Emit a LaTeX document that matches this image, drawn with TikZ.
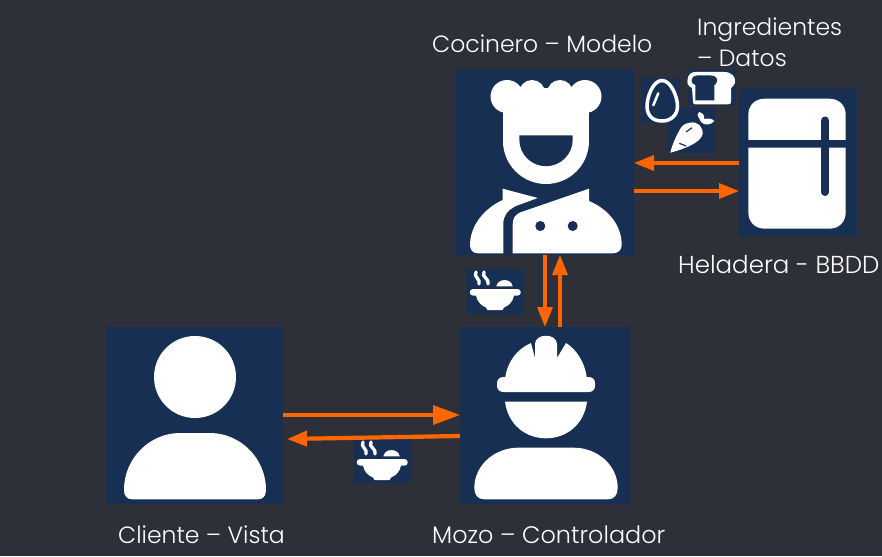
\documentclass[tikz,border=0pt]{standalone}
\usepackage{fontspec}
\setmainfont{Poppins}[UprightFont=* Light]
\usetikzlibrary{arrows.meta}
\definecolor{fondo}{HTML}{2D3038}
\definecolor{azul}{HTML}{172F52}
\definecolor{naranja}{HTML}{FF6600}
\tikzset{
  caja/.style={fill=azul,inner sep=0pt,outer sep=0pt},
  flecha/.style={draw=naranja,line width=3.3pt,-{Stealth[length=20pt,width=15pt,inset=0pt]}},
  flechota/.style={draw=naranja,line width=3.6pt,-{Stealth[length=27pt,width=19pt,inset=0pt]}},
  rotulo/.style={text=white,font=\fontsize{23.5}{28}\selectfont,inner sep=0pt,anchor=base west,align=left},
  blanco/.style={fill=white,draw=none}
}
\newcommand{\sopa}[2]{%
  \begin{scope}[shift={(#1,#2)}]
    %steam
    \draw[white,line width=3.3pt,line cap=round] (9,3) .. controls (6,8) and (14,10) .. (12,15);
    \draw[white,line width=3.3pt,line cap=round] (17,3) .. controls (14,8) and (23,10) .. (21,15);
    %rice
    \fill[white] (29.3,17.3) .. controls (31,9) and (44,9) .. (45.7,17.3) -- cycle;
    %bowl
    \fill[white] (6,20) -- (50.5,20) arc (-90:90:3.3) -- (47,26.6) .. controls (46,33) and (41,37) .. (37,38.5) -- (35.5,41) -- (20.5,41) -- (19,38.5) .. controls (15,37) and (10,33) .. (9,26.6) -- (6,26.6) arc (90:270:3.3) -- cycle;
  \end{scope}}
\begin{document}
\begin{tikzpicture}[x=1pt,y=-1pt]
  \useasboundingbox[fill=fondo] (0,0) rectangle (882,556);

  %boxes
  \node[caja,minimum width=179pt,minimum height=185pt] (cocinero) at (544.5,162.5) {};
  \node[caja,minimum width=118pt,minimum height=147pt] (heladera) at (798,162.5) {};
  \node[caja,minimum width=170pt,minimum height=177pt] (mozo) at (545,415.5) {};
  \node[caja,minimum width=176pt,minimum height=177pt] (cliente) at (195,415.5) {};
  \node[caja,minimum width=39pt,minimum height=45pt] (huevo) at (660.5,100.5) {};
  \node[caja,minimum width=48pt,minimum height=35pt] (pan) at (712,87.5) {};
  \node[caja,minimum width=47pt,minimum height=45pt] (zanahoria) at (691.5,130.5) {};
  \node[caja,minimum width=57pt,minimum height=45pt] (sopaA) at (495.5,291.5) {};
  \node[caja,minimum width=57pt,minimum height=44pt] (sopaB) at (382.5,461) {};

  %labels
  \node[rotulo] (tcocinero) at (432,53) {Cocinero – Modelo};
  \node[rotulo] (tingredientes) at (697,36) {Ingredientes};
  \node[rotulo] (tdatos) at (697,67) {– Datos};
  \node[rotulo,font=\fontsize{24.5}{28}\selectfont] (theladera) at (678,273) {Heladera - BBDD};
  \node[rotulo] (tcliente) at (118,543) {Cliente – Vista};
  \node[rotulo,font=\fontsize{23.9}{28}\selectfont] (tmozo) at (432,543) {Mozo – Controlador};

  %cliente
  \fill[blanco] (195,377) circle (41);
  \fill[blanco] (124,490) .. controls (124,458) and (150,433) .. (180,433) -- (210,433) .. controls (240,433) and (266,458) .. (266,490) .. controls (266,496) and (263,499.3) .. (258,499.3) -- (132,499.3) .. controls (127,499.3) and (124,496) .. (124,490) -- cycle;

  %mozo
  \fill[blanco] (505,379) .. controls (507,362) and (517,349) .. (531,343) -- (535,358) -- (535,344) .. controls (535,333) and (557,333) .. (557,344) -- (557,358) -- (566,343) .. controls (576,349) and (585,362) .. (587,379) -- cycle;
  \fill[blanco,rounded corners=6pt] (497,377) rectangle (595,392);
  \fill[blanco] (505,401.7) -- (587,401.7) .. controls (584,425) and (566,438.3) .. (546,438.3) .. controls (526,438.3) and (508,425) .. (505,401.7) -- cycle;
  \fill[blanco] (474.3,488) .. controls (474.3,465) and (495,447.7) .. (518,447.7) -- (574,447.7) .. controls (597,447.7) and (617.7,465) .. (617.7,488) .. controls (617.7,495) and (614,499.3) .. (608,499.3) -- (484,499.3) .. controls (478,499.3) and (474.3,495) .. (474.3,488) -- cycle;

  %cocinero
  \fill[blanco] (507,96.5) circle (16.5) (532,93) circle (13) (560,93) circle (13) (585,96.5) circle (16.5);
  \fill[blanco] (507,88) rectangle (585,105);
  \fill[blanco] (503,100) rectangle (589,141);
  \fill[blanco] (503,141) arc (180:0:43) -- cycle;
  \fill[azul] (519.3,135.3) -- (572.7,135.3) -- (572.7,139.5) arc (0:180:26.7) -- cycle;
  \fill[blanco] (470,245) .. controls (470,225) and (485,208) .. (502.7,200) -- (502.7,188.7) -- (537.7,198) -- (516,206) .. controls (508,210) and (503.3,215) .. (503.3,224) -- (503.3,253.3) -- (478,253.3) .. controls (473,253.3) and (470,250) .. (470,245) -- cycle;
  \fill[blanco] (512.7,253.3) -- (512.7,225) .. controls (512.7,218) and (515,215) .. (520,212.5) -- (589,188.7) -- (589,201) .. controls (608,209) and (621.7,225) .. (621.7,245) .. controls (621.7,250) and (618,253.3) .. (613,253.3) -- cycle;
  \fill[azul] (540.3,226) circle (5) (572.7,226) circle (5);

  %heladera
  \fill[blanco] (748.3,140) -- (748.3,115) .. controls (748.3,105) and (755,98.7) .. (765,98.7) -- (829,98.7) .. controls (839,98.7) and (845.7,105) .. (845.7,115) -- (845.7,140) -- cycle;
  \fill[blanco] (748.3,147.7) -- (845.7,147.7) -- (845.7,212) .. controls (845.7,222) and (839,228.7) .. (829,228.7) -- (765,228.7) .. controls (755,228.7) and (748.3,222) .. (748.3,212) -- cycle;
  \draw[azul,line width=8pt,line cap=round] (825,120.5) -- (825,192);

  %huevo
  \draw[white,line width=3.5pt] (662,80.5) .. controls (671,80.5) and (677.5,97) .. (677.5,106) .. controls (677.5,116) and (670,121) .. (662,121) .. controls (653,121) and (647,116) .. (647,106) .. controls (647,97) and (653,80.5) .. (662,80.5) -- cycle;
  \draw[white,line width=2.5pt,line cap=round] (658.3,93.3) -- (653.3,105.3);

  %pan
  \fill[blanco] (695,72) -- (724,72) .. controls (733,72) and (736,78) .. (735,83) .. controls (734,86) and (732,87) .. (731,88) -- (731,102) .. controls (731,104) and (730,104.3) .. (728,104.3) -- (695,104.3) .. controls (693.5,104.3) and (693,103) .. (693,102) -- (692,88) .. controls (687,86) and (687,82) .. (687.7,79) .. controls (688,75) and (691,72) .. (695,72) -- cycle;
  \fill[azul] (691.5,80) .. controls (692,77) and (694,75.5) .. (697,75.5) -- (711,75.5) .. controls (716,75.5) and (718,79) .. (716.7,82) .. controls (716,84) and (715,85) .. (714.3,85) -- (714.3,100.3) -- (695.3,100.3) -- (695.3,85) .. controls (693,84) and (691,83) .. (691.5,80) -- cycle;

  %zanahoria
  \fill[blanco] (670.3,152.7) .. controls (672,145) and (677,134) .. (681,127.7) .. controls (684,124) and (687,122.7) .. (690,122.7) .. controls (698,121) and (703,127) .. (702.7,134.3) .. controls (701,139) and (697,142) .. (692.7,144.3) .. controls (686,148) and (677,151) .. (670.3,152.7) -- cycle;
  \draw[azul,line width=1.2pt] (686,132) -- (692,127.7) (679.3,143.3) -- (686,146);
  \fill[blanco] (699,118) .. controls (697,115) and (697,113) .. (699.3,112) .. controls (703,113) and (705,116) .. (704,119) .. controls (708,118) and (712,118.5) .. (714.3,121) .. controls (711,125) and (705,126) .. (701,122) -- cycle;

  %sopa
  \sopa{467}{269}
  \sopa{354}{439}

  %arrows
  \draw[flecha] (heladera.west |- 0,163) -- (cocinero.east |- 0,163);
  \draw[flecha] (cocinero.east |- 0,191) -- (heladera.west |- 0,191);
  \draw[flecha] (cocinero.south -| 545,0) -- (mozo.north -| 545,0);
  \draw[flecha] (mozo.north -| 560,0) -- (cocinero.south -| 560,0);
  \draw[flechota] (cliente.east |- 0,415) -- (mozo.west |- 0,415);
  \draw[flecha,line width=4.2pt] (mozo.west |- 0,436) -- ([xshift=4pt]cliente.east |- 0,439);
\end{tikzpicture}
\end{document}
